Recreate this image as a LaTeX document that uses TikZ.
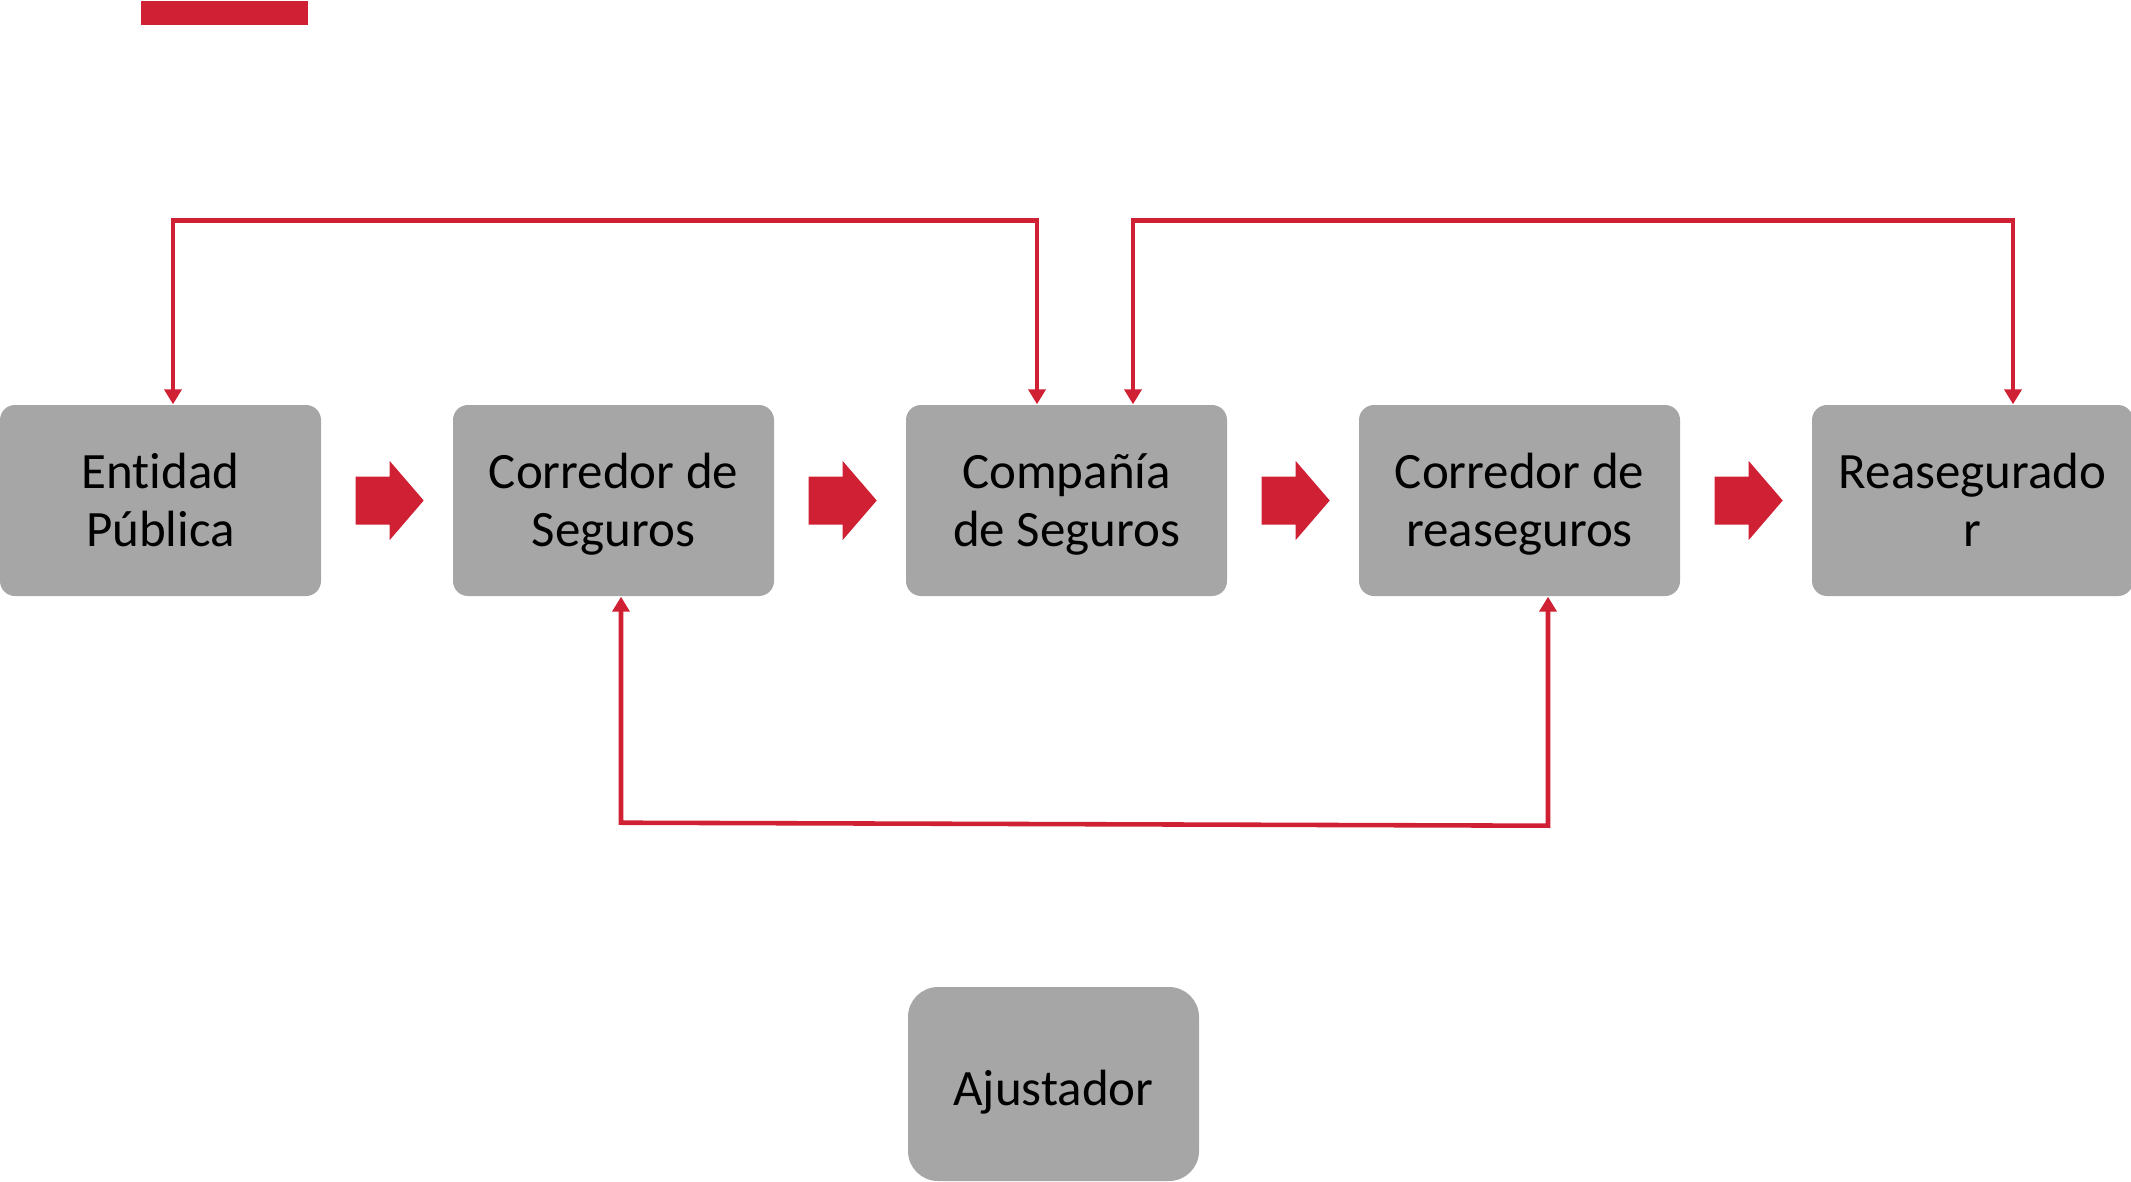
\documentclass[tikz,border=0pt]{standalone}
\usepackage{fontspec}
\setmainfont{Carlito}[Ligatures=NoCommon]
\usetikzlibrary{arrows.meta}

\definecolor{rojo}{RGB}{208,32,51}
\definecolor{gris}{RGB}{166,166,166}
% struts that push the text a little lower in the boxes
\newcommand{\altoa}{\rule{0pt}{14.6pt}}
\newcommand{\altob}{\rule[-4.95pt]{0pt}{21.95pt}}

\begin{document}
\begin{tikzpicture}[
  caja/.style={fill=gris, rounded corners=0.15cm, minimum width=3.21cm, minimum height=1.91cm,
    inner sep=0pt, align=center, font=\fontsize{14.5}{16.5}\selectfont},
  enlace/.style={draw=rojo, line width=1.3pt,
    {Triangle[length=1.5mm,width=1.7mm]}-{Triangle[length=1.5mm,width=1.7mm]}}
]
  \useasboundingbox (0,0) rectangle (21.31,-11.81);

  % red bar at the top
  \fill[rojo] (1.41,-0.01) rectangle (3.08,-0.25);

  % main chain
  \node[caja] (ent) at (1.605,-5.005) {\altoa Entidad\\Pública\strut};
  \node[caja] (cor) at (6.135,-5.005) {\altoa Corredor de\\Seguros\strut};
  \node[caja] (cia) at (10.665,-5.005) {\altoa Compañía\\de Seguros\strut};
  \node[caja] (corre) at (15.195,-5.005) {\altoa Corredor de\\reaseguros\strut};
  \node[caja] (rea) at (19.725,-5.005) {\altoa Reasegurado\\r\strut};

  \node[caja, minimum width=2.91cm, minimum height=1.94cm, rounded corners=0.3cm] (aju) at (10.535,-10.84) {\altob Ajustador};

  % block arrows between boxes
  \foreach \a in {ent,cor,cia,corre}{
    \fill[rojo] ([xshift=3.4mm]\a.east) ++(0,0.24) -- ++(0.34,0) -- ++(0,0.155) -- ++(0.34,-0.395)
      -- ++(-0.34,-0.395) -- ++(0,0.155) -- ++(-0.34,0) -- cycle;
  }

  % connectors above
  \draw[enlace] ([xshift=1.25mm]ent.north) -- ++(0,1.84) -| ([xshift=-2.95mm]cia.north);
  \draw[enlace] ([xshift=6.65mm]cia.north) -- ++(0,1.84) -| ([xshift=4.05mm]rea.north);

  % connector below
  \coordinate (codo) at ([xshift=2.85mm,yshift=-2.29cm]corre.south);
  \draw[enlace] ([xshift=0.75mm]cor.south) -- ++(0,-2.26) -- (codo) -- ([xshift=2.85mm]corre.south);

\end{tikzpicture}
\end{document}
